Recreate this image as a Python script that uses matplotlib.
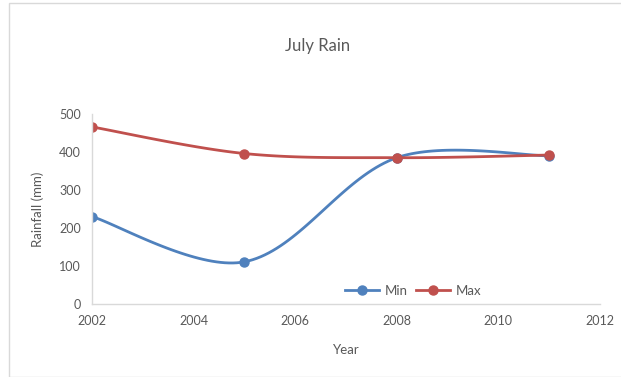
import numpy as np
import matplotlib
matplotlib.use("Agg")
import matplotlib.pyplot as plt
from matplotlib.patches import Rectangle

plt.rcParams["font.family"] = ["Lato", "DejaVu Sans"]

years = [2002, 2005, 2008, 2011]
rain_min = [230, 111, 385, 390]
rain_max = [466, 396, 385, 392]

TEXT = "#595959"
AXIS = "#D9D9D9"
BLUE = "#4F81BD"
RED = "#C0504D"

# pixels per data unit, used to weight the curve tangents by on-screen segment length
PX_PER_YEAR = 50.8
PX_PER_MM = 0.38


def smooth(xs, ys, n=40):
    """Smoothed line through the points: cubic Bezier, tangents weighted by segment length."""
    p = np.column_stack([np.asarray(xs, float), np.asarray(ys, float)])
    scale = np.array([PX_PER_YEAR, PX_PER_MM])
    d = np.linalg.norm(np.diff(p, axis=0) * scale, axis=1)
    m = len(p)
    after = [None] * m
    before = [None] * m
    after[0] = p[0] + (p[1] - p[0]) / 6
    before[-1] = p[-1] - (p[-1] - p[-2]) / 6
    for i in range(1, m - 1):
        tan = p[i + 1] - p[i - 1]
        tot = d[i - 1] + d[i]
        after[i] = p[i] + tan * d[i] / tot / 3
        before[i] = p[i] - tan * d[i - 1] / tot / 3
    t = np.linspace(0, 1, n)[:, None]
    out = []
    for i in range(m - 1):
        b = (1 - t) ** 3 * p[i] + 3 * (1 - t) ** 2 * t * after[i] \
            + 3 * (1 - t) * t ** 2 * before[i + 1] + t ** 3 * p[i + 1]
        out.append(b)
    out = np.vstack(out)
    return out[:, 0], out[:, 1]


fig = plt.figure(figsize=(6.21, 3.77), dpi=100)
fig.patches.append(Rectangle((9 / 621, 0), 1, 1 - 3 / 377, transform=fig.transFigure,
                             fill=False, edgecolor=AXIS, linewidth=1))
ax = fig.add_axes([92 / 621, 1 - 304 / 377, 508 / 621, 190 / 377])

for ys, color, name in [(rain_min, BLUE, "Min"), (rain_max, RED, "Max")]:
    sx, sy = smooth(years, ys)
    ax.plot(sx, sy, color=color, linewidth=2, solid_capstyle="round")
    ax.plot(years, ys, "o", color=color, markersize=6.5)
    ax.plot([], [], "-o", color=color, linewidth=2, markersize=6.5, label=name)

ax.set_xlim(2002, 2012)
ax.set_ylim(0, 500)
ax.set_xticks(range(2002, 2013, 2))
ax.set_yticks(range(0, 501, 100))
ax.tick_params(length=0, labelsize=9, colors=TEXT, pad=8)
for side in ["top", "right"]:
    ax.spines[side].set_visible(False)
for side in ["left", "bottom"]:
    ax.spines[side].set_color(AXIS)
    ax.spines[side].set_linewidth(1)
ax.patch.set_alpha(0)

# title sits over the centre of the whole chart, not the plot area
ax.set_title("July Rain", fontsize=12, color=TEXT, pad=45, x=0.445)
ax.set_xlabel("Year", fontsize=9.5, color=TEXT, labelpad=12)
ax.set_ylabel("Rainfall (mm)", fontsize=9.5, color=TEXT, labelpad=11)

ax.legend(loc="lower left", bbox_to_anchor=(0.475, -0.025), ncol=2, frameon=False,
          fontsize=9.5, labelcolor=TEXT, handlelength=2.6, columnspacing=0.6,
          handletextpad=0.4)

fig.savefig("out.png", dpi=100)
